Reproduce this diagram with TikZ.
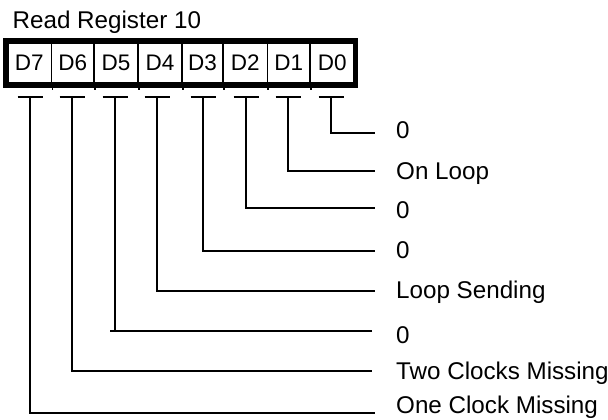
\documentclass[tikz,border=0pt]{standalone}
\usepackage{fontspec}
\setmainfont{Liberation Sans}
\begin{document}
\begin{tikzpicture}[x=1pt,y=-1pt,
  lbl/.style={anchor=base west,inner sep=0pt,font=\fontsize{24.2}{28}\selectfont},
  celltxt/.style={draw,line width=1.5pt,inner sep=0pt,minimum height=42.5pt,font=\fontsize{22.5}{26}\selectfont},
  wire/.style={line width=1.8pt},
  frame/.style={line width=5.3pt},
]
\useasboundingbox (0,0) rectangle (608,420);

\node[lbl] (title) at (12.5,28.5) {Read Register 10};

% register cells
\node[celltxt,minimum width=45pt] (d7) at (29.2,63) {D7};
\node[celltxt,minimum width=42.3pt] (d6) at (72.85,63) {D6};
\node[celltxt,minimum width=44pt] (d5) at (116,63) {D5};
\node[celltxt,minimum width=44pt] (d4) at (160,63) {D4};
\node[celltxt,minimum width=41pt] (d3) at (202.5,63) {D3};
\node[celltxt,minimum width=44.3pt] (d2) at (245.15,63) {D2};
\node[celltxt,minimum width=42.7pt] (d1) at (288.65,63) {D1};
\node[celltxt,minimum width=44.5pt] (d0) at (332.25,63) {D0};
\draw[frame] (d7.north west) rectangle (d0.south east);
\foreach \c in {d7,d6,d5,d4,d3,d2,d1}
  \draw[line width=1.5pt] (\c.south east) -- ++(0,5);

% T bars
\foreach \n/\x in {7/30,6/72,5/115,4/157,3/203,2/246,1/288,0/331}{
  \coordinate (t\n) at (\x,97);
  \draw[wire] ([xshift=-12.5pt]t\n) -- ([xshift=12.5pt]t\n);
}

% line ends
\coordinate (e0) at (375,133);
\coordinate (e1) at (375,171);
\coordinate (e2) at (375,208);
\coordinate (e3) at (375,251);
\coordinate (e4) at (375,291);
\coordinate (e5) at (372,331);
\coordinate (e6) at (372,371);
\coordinate (e7) at (375,413);

\foreach \n in {0,...,7}
  \draw[wire] (t\n) |- (e\n);
\draw[wire] (e5) -- ++(-262,0);

% labels
\node[lbl] (l0) at (396,139) {0};
\node[lbl] (l1) at (396,179) {On Loop};
\node[lbl] (l2) at (396,218) {0};
\node[lbl] (l3) at (396,258) {0};
\node[lbl] (l4) at (396,298) {Loop Sending};
\node[lbl] (l5) at (396,343) {0};
\node[lbl] (l6) at (396,379) {Two Clocks Missing};
\node[lbl] (l7) at (396,413) {One Clock Missing};
\end{tikzpicture}
\end{document}
